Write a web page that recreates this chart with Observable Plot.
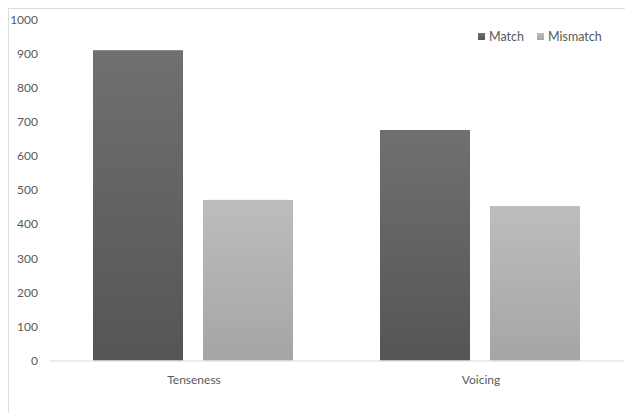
<!DOCTYPE html>
<html>
<head>
<meta charset="utf-8">
<script src="https://cdn.jsdelivr.net/npm/d3@7"></script>
<script src="https://cdn.jsdelivr.net/npm/@observablehq/plot@0.6"></script>
<style>
  html, body { margin: 0; padding: 0; background: #fff; }
  #wrap { position: relative; width: 625px; height: 413px; overflow: hidden; font-family: Lato, "Open Sans", sans-serif; }
  #border { position: absolute; left: 8px; top: 8px; width: 700px; height: 500px; border: 1px solid #dcdce2; box-sizing: border-box; }
  #chart { position: absolute; left: 0; top: 0; }
  #legend { position: absolute; top: 29px; left: 478px; font-size: 12.5px; color: #595959; display: flex; align-items: center; white-space: nowrap; }
  #legend .sw { display: inline-block; width: 7px; height: 7px; margin-right: 4px; }
  #legend .item { display: inline-flex; align-items: center; margin-right: 13px; }
</style>
</head>
<body>
<div id="wrap">
  <div id="border"></div>
  <div id="chart"></div>
  <div id="legend"></div>
</div>
<script>
const categories = ["Tenseness", "Voicing"];
const series = ["Match", "Mismatch"];
const matchValues = [910, 676];
const mismatchValues = [471, 453];
const yTicks = [0, 100, 200, 300, 400, 500, 600, 700, 800, 900, 1000];
const gradTop = ["#707070", "#bdbdbd"];
const gradBottom = ["#555555", "#a5a5a5"];
const gradIds = ["gMatch", "gMismatch"];

const data = [];
categories.forEach((c, i) => {
  data.push({category: c, series: series[0], value: matchValues[i]});
  data.push({category: c, series: series[1], value: mismatchValues[i]});
});

const plot = Plot.plot({
  width: 625,
  height: 413,
  marginTop: 19.5,
  marginBottom: 52.5,
  marginLeft: 50,
  marginRight: 0.5,
  style: {fontFamily: "Lato, 'Open Sans', sans-serif", fontSize: "12px", color: "#595959", background: "transparent"},
  fx: {domain: categories, padding: 0, label: null, axis: "bottom", tickSize: 0, tickPadding: 14},
  x: {domain: series, paddingInner: 0.1818, paddingOuter: 0.395, axis: null},
  y: {domain: [0, 1000], ticks: yTicks, tickSize: 0, tickPadding: 12.5, label: null, tickFormat: d => String(d)},
  color: {domain: series, range: gradIds.map(id => `url(#${id})`)},
  marks: [
    Plot.barY(data, {fx: "category", x: "series", y: "value", fill: "series"}),
    Plot.ruleY([0], {stroke: "#d9d9d9", strokeWidth: 1})
  ]
});

const ns = "http://www.w3.org/2000/svg";
const defs = document.createElementNS(ns, "defs");
gradIds.forEach((id, i) => {
  const g = document.createElementNS(ns, "linearGradient");
  g.setAttribute("id", id);
  g.setAttribute("x1", "0"); g.setAttribute("y1", "0");
  g.setAttribute("x2", "0"); g.setAttribute("y2", "1");
  [[0, gradTop[i]], [1, gradBottom[i]]].forEach(([o, col]) => {
    const s = document.createElementNS(ns, "stop");
    s.setAttribute("offset", o);
    s.setAttribute("stop-color", col);
    g.appendChild(s);
  });
  defs.appendChild(g);
});
plot.insertBefore(defs, plot.firstChild);
document.getElementById("chart").appendChild(plot);

const legend = document.getElementById("legend");
series.forEach((s, i) => {
  const item = document.createElement("span");
  item.className = "item";
  const sw = document.createElement("span");
  sw.className = "sw";
  sw.style.background = `linear-gradient(${gradTop[i]}, ${gradBottom[i]})`;
  item.appendChild(sw);
  item.appendChild(document.createTextNode(s));
  legend.appendChild(item);
});
</script>
</body>
</html>
